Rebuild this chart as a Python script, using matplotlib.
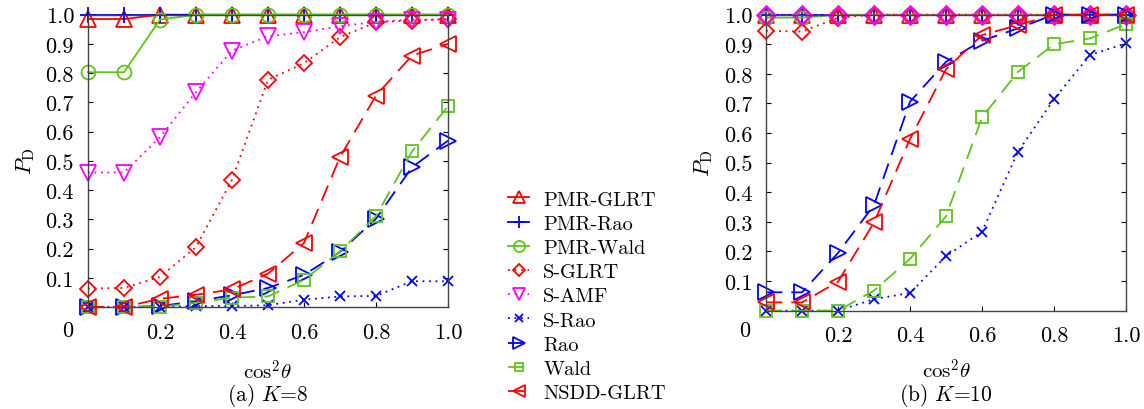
import matplotlib
matplotlib.use("Agg")
import matplotlib.pyplot as plt

plt.rcParams["font.family"] = ["cmr10", "DejaVu Serif"]
plt.rcParams["mathtext.fontset"] = "cm"
plt.rcParams["axes.unicode_minus"] = False
plt.rcParams["axes.formatter.use_mathtext"] = True

x = [0.0, 0.1, 0.2, 0.3, 0.4, 0.5, 0.6, 0.7, 0.8, 0.9, 1.0]

names = ["PMR-GLRT", "PMR-Rao", "PMR-Wald", "S-GLRT", "S-AMF",
         "S-Rao", "Rao", "Wald", "NSDD-GLRT"]

# (a) K=8
pd_k8 = {
    "PMR-GLRT": [0.985, 0.985, 1.0, 1.0, 1.0, 1.0, 1.0, 1.0, 1.0, 1.0, 1.0],
    "PMR-Rao": [1.0, 1.0, 1.0, 1.0, 1.0, 1.0, 1.0, 1.0, 1.0, 1.0, 1.0],
    "PMR-Wald": [0.803, 0.803, 0.983, 1.0, 1.0, 1.0, 1.0, 1.0, 1.0, 1.0, 1.0],
    "S-GLRT": [0.063, 0.065, 0.103, 0.205, 0.435, 0.777, 0.834, 0.923, 0.974, 0.98, 0.985],
    "S-AMF": [0.46, 0.46, 0.581, 0.735, 0.877, 0.926, 0.94, 0.96, 0.976, 0.983, 0.983],
    "S-Rao": [0.0, 0.0, 0.0, 0.003, 0.003, 0.006, 0.025, 0.036, 0.038, 0.088, 0.088],
    "Rao": [0.0, 0.0, 0.003, 0.02, 0.04, 0.065, 0.11, 0.188, 0.302, 0.478, 0.569],
    "Wald": [0.0, 0.0, 0.0, 0.015, 0.032, 0.036, 0.093, 0.19, 0.311, 0.532, 0.687],
    "NSDD-GLRT": [0.0, 0.0, 0.028, 0.042, 0.06, 0.114, 0.219, 0.513, 0.723, 0.86, 0.9],
}

# (b) K=10
pd_k10 = {
    "PMR-GLRT": [1.0, 1.0, 1.0, 1.0, 1.0, 1.0, 1.0, 1.0, 1.0, 1.0, 1.0],
    "PMR-Rao": [1.0, 1.0, 1.0, 1.0, 1.0, 1.0, 1.0, 1.0, 1.0, 1.0, 1.0],
    "PMR-Wald": [0.99, 0.99, 1.0, 1.0, 1.0, 1.0, 1.0, 1.0, 1.0, 1.0, 1.0],
    "S-GLRT": [0.946, 0.943, 0.99, 1.0, 1.0, 1.0, 1.0, 1.0, 1.0, 1.0, 1.0],
    "S-AMF": [1.0, 1.0, 1.0, 1.0, 1.0, 1.0, 1.0, 1.0, 1.0, 1.0, 1.0],
    "S-Rao": [0.0, 0.0, 0.0, 0.039, 0.06, 0.184, 0.267, 0.537, 0.715, 0.864, 0.903],
    "Rao": [0.062, 0.062, 0.195, 0.357, 0.706, 0.841, 0.912, 0.954, 1.0, 1.0, 1.0],
    "Wald": [0.0, 0.0, 0.0, 0.068, 0.175, 0.319, 0.653, 0.807, 0.9, 0.92, 0.968],
    "NSDD-GLRT": [0.028, 0.028, 0.098, 0.298, 0.58, 0.816, 0.931, 0.965, 1.0, 1.0, 1.0],
}

red = "#ff0000"
blue = "#0000ff"
green = "#5ec41a"
magenta = "#ff00ff"

solid = "-"
dashed = (0, (9, 5))
dotted = (0, (1, 2.6))

styles = {
    "PMR-GLRT": (red, solid, "^"),
    "PMR-Rao": (blue, solid, "+"),
    "PMR-Wald": (green, solid, "o"),
    "S-GLRT": (red, dotted, "D"),
    "S-AMF": (magenta, dotted, "v"),
    "S-Rao": (blue, dotted, "x"),
    "Rao": (blue, dashed, ">"),
    "Wald": (green, dashed, "s"),
    "NSDD-GLRT": (red, dashed, "<"),
}
msize = {"^": 11, "+": 11, "o": 10, "D": 8, "v": 11, "x": 7, ">": 11, "s": 8, "<": 11}

fig = plt.figure(figsize=(11.44, 4.10), dpi=100)
ax1 = fig.add_axes([0.0769, 0.2488, 0.3147, 0.713])
ax2 = fig.add_axes([0.6696, 0.2398, 0.3147, 0.7219])

panels = [(ax1, pd_k8, "(a) $K$=8", 68, 12), (ax2, pd_k10, "(b) $K$=10", 745, 9)]
for ax, data, cap, zero_px, xpad in panels:
    for name in names:
        c, ls, m = styles[name]
        ms = msize[m]
        mew = 1.3
        # in panel (b) the S-AMF marks at the top look like diamonds
        if ax is ax2 and name == "S-AMF":
            m, ms, mew = "D", 9.5, 1.8
        ax.plot(x, data[name], color=c, linestyle=ls, linewidth=1.3,
                marker=m, markersize=ms, markerfacecolor="none",
                markeredgecolor=c, markeredgewidth=mew, label=name,
                clip_on=False)
    ax.set_xlim(0, 1)
    ax.set_ylim(0, 1)
    ax.set_xticks([0.2, 0.4, 0.6, 0.8, 1.0])
    ax.set_xticklabels(["0.2", "0.4", "0.6", "0.8", "1.0"])
    ax.set_yticks([0.1, 0.2, 0.3, 0.4, 0.5, 0.6, 0.7, 0.8, 0.9, 1.0])
    ax.set_yticklabels(["0.1", "0.2", "0.3", "0.4", "0.5", "0.6", "0.7", "0.8", "0.9", "1.0"])
    ax.tick_params(direction="in", top=True, right=True, length=3.5,
                   labelsize=16)
    ax.tick_params(axis="y", pad=10)
    ax.tick_params(axis="x", pad=11)
    for s in ax.spines.values():
        s.set_color("#444444")
        s.set_linewidth(1.0)
    fig.text(zero_px / 1144, 1 - 331 / 410, "0", ha="center", va="center", fontsize=16)
    ax.set_ylabel("$P_{\\mathrm{D}}$", fontsize=16, labelpad=6)
    ax.set_xlabel("$\\mathrm{cos}^2\\theta$", fontsize=15, labelpad=xpad)
    bb = ax.get_position()
    fig.text((bb.x0 + bb.x1) / 2, 0.035, cap, ha="center", va="center", fontsize=15.5)

handles, labels = ax1.get_legend_handles_labels()
fig.legend(handles, labels, loc="center left", bbox_to_anchor=(0.432, 0.275),
           frameon=False, fontsize=14.7, labelspacing=0.29, handlelength=1.0,
           handletextpad=0.7, markerscale=0.8, borderpad=0.2)

fig.savefig("out.png", dpi=100)
